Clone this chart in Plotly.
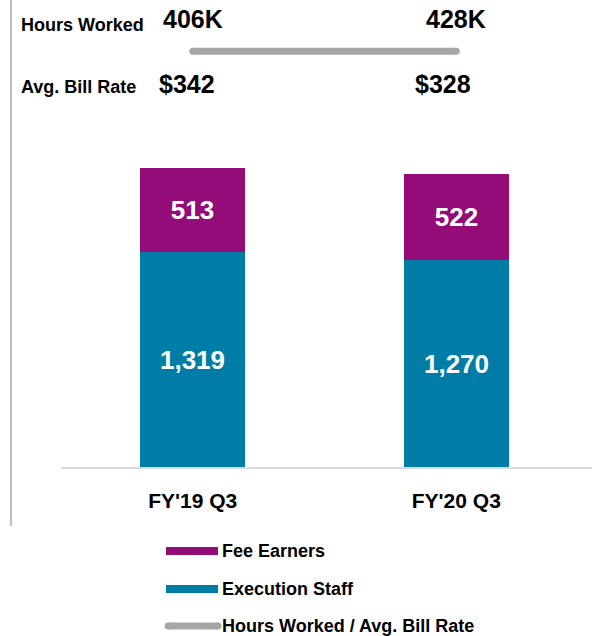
import plotly.graph_objects as go

categories = ["FY'19 Q3", "FY'20 Q3"]
execution_staff = [1319, 1270]
fee_earners = [513, 522]
hours_worked = ["406K", "428K"]
bill_rate = ["$342", "$328"]

TEAL = "#007DA6"
MAGENTA = "#930C78"
GRAY = "#A6A6A6"
FONT = "Liberation Sans, Arial, sans-serif"
LINE_LEVEL = 0.89

fig = go.Figure()
fig.add_trace(go.Bar(
    x=categories, y=execution_staff, name="Execution Staff",
    marker=dict(color=TEAL, line=dict(width=0)), width=0.4,
    texttemplate="<b>%{y:,}</b>", textposition="inside", insidetextanchor="middle",
    textfont=dict(color="white", size=26, family=FONT), showlegend=False,
))
fig.add_trace(go.Bar(
    x=categories, y=fee_earners, name="Fee Earners",
    marker=dict(color=MAGENTA, line=dict(width=0)), width=0.4,
    texttemplate="<b>%{y:,}</b>", textposition="inside", insidetextanchor="middle",
    textfont=dict(color="white", size=26, family=FONT), showlegend=False,
))
fig.add_trace(go.Scatter(
    x=categories, y=[LINE_LEVEL] * len(categories), yaxis="y2",
    mode="lines+markers", line=dict(color=GRAY, width=7),
    marker=dict(color=GRAY, size=7), showlegend=False, hoverinfo="skip",
))

annotations = []
for i, c in enumerate(categories):
    annotations.append(dict(x=c, y=(467 - 19) / 467, xref="x", yref="paper",
                            text=f"<b>{hours_worked[i]}</b>", showarrow=False,
                            font=dict(size=25, color="black", family=FONT),
                            xanchor="center", yanchor="middle"))
    annotations.append(dict(x=c, y=(467 - 84) / 467, xref="x", yref="paper",
                            text=f"<b>{bill_rate[i]}</b>", showarrow=False,
                            xshift=[-6, -13][i],
                            font=dict(size=25, color="black", family=FONT),
                            xanchor="center", yanchor="middle"))

annotations.append(dict(x=(19 - 61) / 531, y=(467 - 25) / 467, xref="paper", yref="paper",
                        text="<b>Hours Worked</b>", showarrow=False, xanchor="left", yanchor="middle",
                        font=dict(size=18, color="black", family=FONT)))
annotations.append(dict(x=(19 - 61) / 531, y=(467 - 87) / 467, xref="paper", yref="paper",
                        text="<b>Avg. Bill Rate</b>", showarrow=False, xanchor="left", yanchor="middle",
                        font=dict(size=18, color="black", family=FONT)))

legend_items = [("Fee Earners", MAGENTA, 551, "rect"),
                ("Execution Staff", TEAL, 589, "rect"),
                ("Hours Worked / Avg. Bill Rate", GRAY, 626, "line")]
shapes = []
for label, color, py, kind in legend_items:
    yc = 467 - py
    if kind == "rect":
        shapes.append(dict(type="rect", xref="paper", yref="paper", xsizemode="pixel", ysizemode="pixel",
                           xanchor=0, yanchor=0, x0=166 - 61, x1=218 - 61, y0=yc - 4, y1=yc + 4,
                           fillcolor=color, line=dict(width=0)))
    else:
        shapes.append(dict(type="rect", xref="paper", yref="paper", xsizemode="pixel", ysizemode="pixel",
                           xanchor=0, yanchor=0, x0=168 - 61, x1=218 - 61, y0=yc - 3.5, y1=yc + 3.5,
                           fillcolor=color, line=dict(width=0)))
        for cx in (168 - 61, 218 - 61):
            shapes.append(dict(type="circle", xref="paper", yref="paper", xsizemode="pixel", ysizemode="pixel",
                               xanchor=0, yanchor=0, x0=cx - 3.5, x1=cx + 3.5, y0=yc - 3.5, y1=yc + 3.5,
                               fillcolor=color, line=dict(width=0)))
    annotations.append(dict(x=(220 - 61) / 531, y=(467 - py) / 467, xref="paper", yref="paper",
                            text=f"<b>{label}</b>", showarrow=False, xanchor="left", yanchor="middle",
                            font=dict(size=18, color="black", family=FONT)))

shapes.append(dict(type="line", xref="paper", yref="paper", xsizemode="pixel", xanchor=0,
                   x0=11 - 61, x1=11 - 61, y0=(467 - 526) / 467, y1=1.05,
                   line=dict(color="#BFBFBF", width=2)))

fig.update_layout(
    width=592, height=636,
    margin=dict(l=61, r=0, t=0, b=169),
    barmode="stack", bargap=0,
    plot_bgcolor="white", paper_bgcolor="white",
    font=dict(family=FONT, color="black"),
    xaxis=dict(range=[-0.5, 1.515], showline=True, linecolor="#D9D9D9", linewidth=2,
               showgrid=False, zeroline=False, ticks="", ticklabelstandoff=14,
               tickfont=dict(size=21, color="black", family=FONT, weight="bold")),
    yaxis=dict(range=[0, 2860], visible=False, showgrid=False, zeroline=False),
    yaxis2=dict(range=[0, 1], overlaying="y", visible=False),
    showlegend=False,
    annotations=annotations, shapes=shapes,
)

fig.write_html("out.html", config={"displayModeBar": False},
               post_script="document.body.style.margin='0';document.body.style.overflow='hidden';")
